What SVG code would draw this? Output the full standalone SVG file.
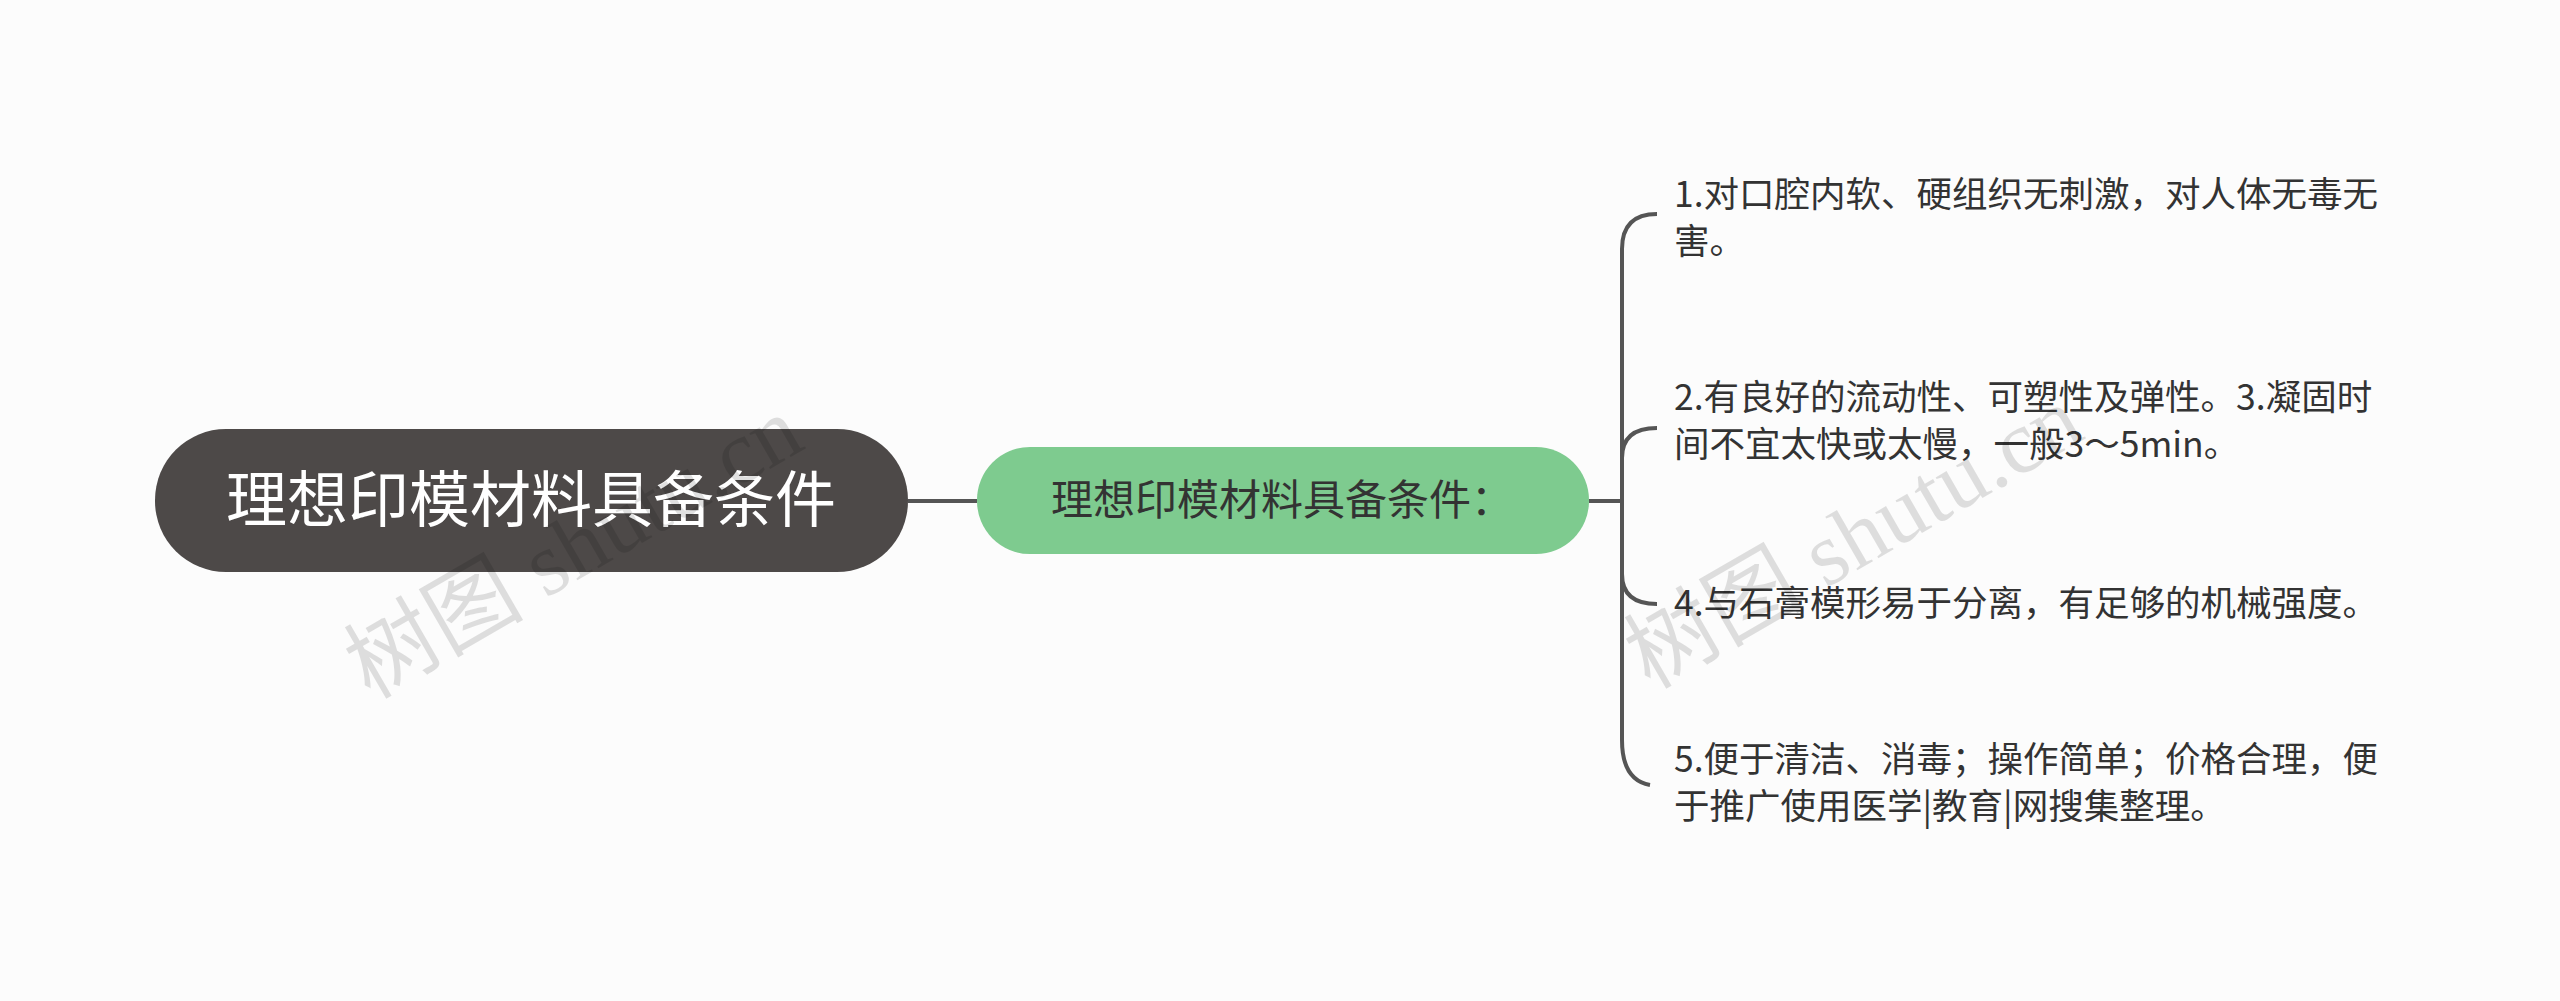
<svg xmlns="http://www.w3.org/2000/svg" width="2560" height="1001" viewBox="0 0 2560 1001">
<style>
.leaf{font-family:"Noto Sans CJK SC","Noto Sans",sans-serif;font-size:35.5px;fill:#333}
.wm{font-family:"Liberation Serif","Noto Sans CJK SC",serif;font-size:90px;fill:#000;fill-opacity:0.12}
</style>
<rect width="2560" height="1001" fill="#fcfcfc"/>
<g id="connectors" fill="none" stroke="#555" stroke-width="4">
<path d="M908 501H977"/>
<path d="M1589 501H1622"/>
<path d="M1622 501V249Q1622 214 1657 214"/>
<path d="M1622 501V458Q1622 428 1657 428"/>
<path d="M1622 501V574Q1622 604 1657 604"/>
<path d="M1622 501V740Q1622 780 1650 785"/>
</g>
<g id="root"><rect x="155" y="429" width="753" height="143" rx="71" fill="#4d4948"/>
<text x="531" y="522" text-anchor="middle" font-family="Noto Sans CJK SC,sans-serif" font-size="61" fill="#fff">理想印模材料具备条件</text></g>
<g id="sub"><rect x="977" y="447" width="612" height="107" rx="53" fill="#7ecb8f"/>
<text x="1282" y="515" text-anchor="middle" font-family="Noto Sans CJK SC,sans-serif" font-size="42" fill="#333">理想印模材料具备条件：</text></g>
<g id="leaf1"><text class="leaf" x="1674" y="207">1.对口腔内软、硬组织无刺激，对人体无毒无</text><text class="leaf" x="1674" y="254">害。</text></g>
<g id="leaf2"><text class="leaf" x="1674" y="410">2.有良好的流动性、可塑性及弹性。3.凝固时</text><text class="leaf" x="1674" y="457">间不宜太快或太慢，一般3～5min。</text></g>
<g id="leaf3"><text class="leaf" x="1674" y="616">4.与石膏模形易于分离，有足够的机械强度。</text></g>
<g id="leaf4"><text class="leaf" x="1674" y="772">5.便于清洁、消毒；操作简单；价格合理，便</text><text class="leaf" x="1674" y="819">于推广使用医学|教育|网搜集整理。</text></g>
<text class="wm" transform="translate(370 700) rotate(-30)">树图 shutu.cn</text>
<text class="wm" transform="translate(1650 690) rotate(-30)">树图 shutu.cn</text>
</svg>
